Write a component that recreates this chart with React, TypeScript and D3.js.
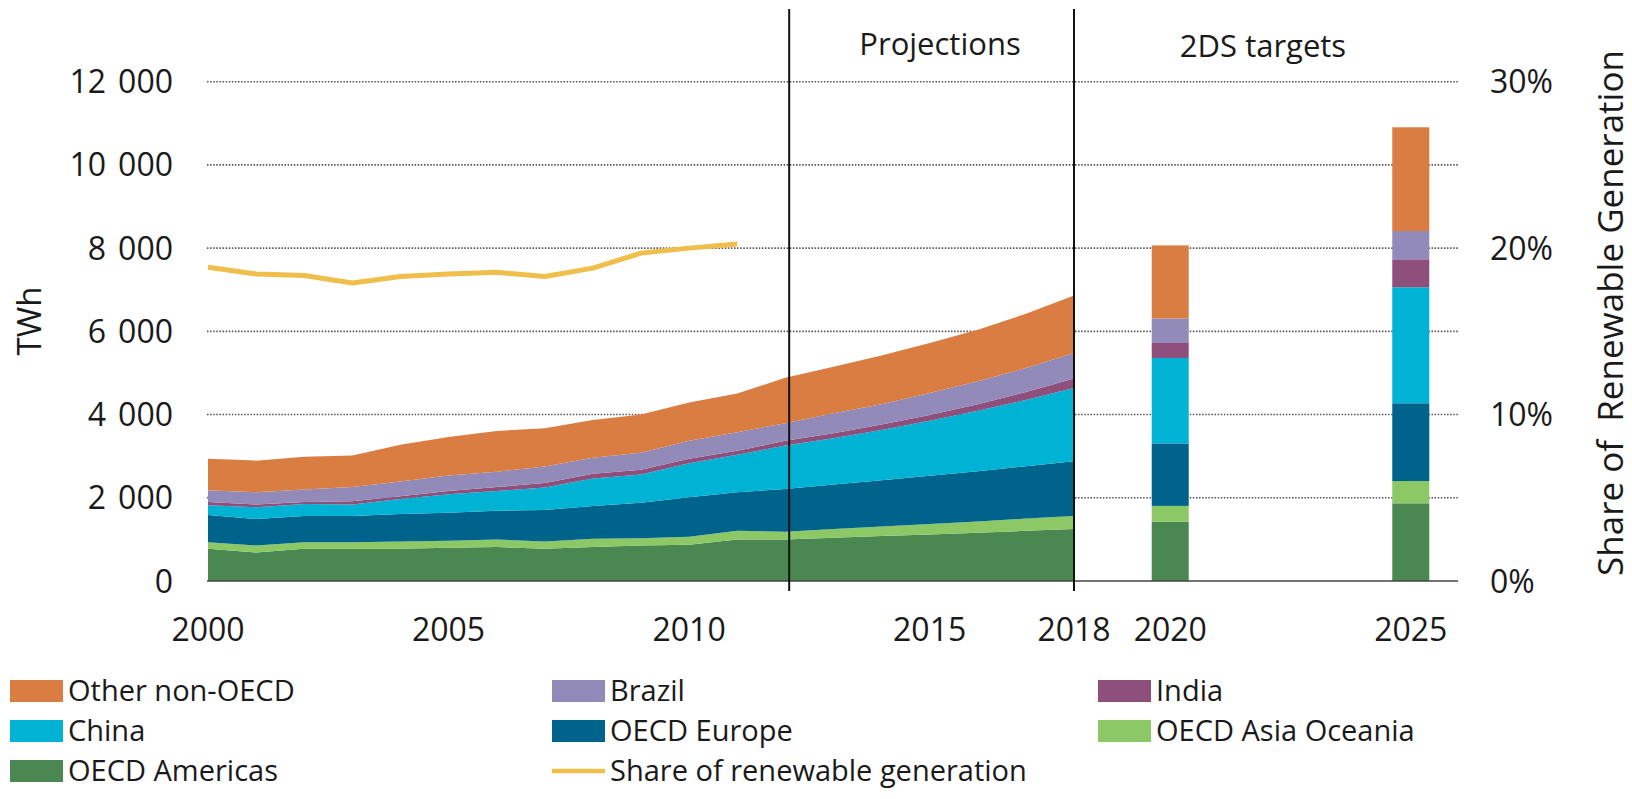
import React from "react";
import * as d3 from "d3";

// ---- data ----
const years = [2000, 2001, 2002, 2003, 2004, 2005, 2006, 2007, 2008, 2009, 2010, 2011, 2012, 2013, 2014, 2015, 2016, 2017, 2018];
const oecdAmericas = [778, 683, 778, 778, 778, 797, 816, 778, 816, 854, 873, 996, 1000, 1040, 1080, 1120, 1160, 1205, 1252];
const oecdAsiaOceania = [152, 171, 152, 152, 171, 171, 180, 171, 199, 171, 189, 209, 186, 210, 230, 250, 270, 295, 313];
const oecdEurope = [654, 635, 635, 635, 664, 673, 692, 758, 787, 853, 949, 929, 1024, 1070, 1110, 1160, 1210, 1260, 1314];
const china = [237, 285, 285, 275, 360, 446, 475, 541, 664, 683, 816, 902, 1044, 1110, 1210, 1320, 1450, 1590, 1757];
const india = [76, 66, 47, 76, 66, 76, 95, 105, 114, 114, 114, 94, 114, 120, 130, 140, 160, 190, 228];
const brazil = [285, 294, 304, 342, 351, 370, 370, 398, 380, 408, 427, 446, 426, 480, 490, 530, 550, 580, 618];
const otherNonOecd = [759, 759, 787, 759, 883, 929, 977, 920, 910, 920, 920, 930, 1091, 1120, 1170, 1200, 1240, 1300, 1378];

const shareYears = [2000, 2001, 2002, 2003, 2004, 2005, 2006, 2007, 2008, 2009, 2010, 2011];
const shareRenewable = [18.85, 18.45, 18.35, 17.9, 18.3, 18.45, 18.55, 18.3, 18.8, 19.7, 20.0, 20.25];

const targetYears = [2020, 2025];
const tAmericas = [1425, 1867];
const tAsiaOceania = [380, 536];
const tEurope = [1501, 1868];
const tChina = [2053, 2788];
const tIndia = [361, 672];
const tBrazil = [589, 681];
const tOther = [1757, 2492];

const yTicks = [0, 2000, 4000, 6000, 8000, 10000, 12000];
const yRightTicks = [0, 10, 20, 30];
const xTickLabels = [2000, 2005, 2010, 2015, 2018, 2020, 2025];
const dividerYears = [2012.08, 2018];

const seriesKeys = ["americas", "asia", "europe", "china", "india", "brazil", "other"];
const seriesNames: Record<string, string> = {
  other: "Other non-OECD",
  brazil: "Brazil",
  india: "India",
  china: "China",
  europe: "OECD Europe",
  asia: "OECD Asia Oceania",
  americas: "OECD Americas",
};
const colors: Record<string, string> = {
  other: "#D97D42",
  brazil: "#928AB8",
  india: "#8E4F7D",
  china: "#00B3D4",
  europe: "#00638C",
  asia: "#8CC865",
  americas: "#4A8751",
};
const shareColor = "#F0BE4A";

const FONT = "'Open Sans', 'Noto Sans', sans-serif";
const TXT = "#1a1a1a";

export default function App() {
  const W = 1632, H = 799;
  const x = d3.scaleLinear().domain([2000, 2018]).range([208, 1074]);
  const y = d3.scaleLinear().domain([0, 12000]).range([581, 81.7]);
  const yR = d3.scaleLinear().domain([0, 30]).range([581, 81.7]);
  const plotLeft = 207, plotRight = 1458;

  const rows = years.map((yr, i) => ({
    year: yr,
    americas: oecdAmericas[i],
    asia: oecdAsiaOceania[i],
    europe: oecdEurope[i],
    china: china[i],
    india: india[i],
    brazil: brazil[i],
    other: otherNonOecd[i],
  }));
  const stacked = d3.stack<any>().keys(seriesKeys)(rows);
  const area = d3
    .area<any>()
    .x((d) => x(d.data.year))
    .y0((d) => y(d[0]))
    .y1((d) => y(d[1]));

  const tRows = targetYears.map((yr, i) => ({
    year: yr,
    americas: tAmericas[i],
    asia: tAsiaOceania[i],
    europe: tEurope[i],
    china: tChina[i],
    india: tIndia[i],
    brazil: tBrazil[i],
    other: tOther[i],
  }));
  const tStacked = d3.stack<any>().keys(seriesKeys)(tRows);
  const barW = 37;

  const line = d3
    .line<number>()
    .x((_, i) => x(shareYears[i]))
    .y((d) => yR(d));

  const legendItems = [
    { key: "other", col: 0, row: 0 },
    { key: "brazil", col: 1, row: 0 },
    { key: "india", col: 2, row: 0 },
    { key: "china", col: 0, row: 1 },
    { key: "europe", col: 1, row: 1 },
    { key: "asia", col: 2, row: 1 },
    { key: "americas", col: 0, row: 2 },
    { key: "share", col: 1, row: 2 },
  ];
  const colX = [10, 552, 1098];
  const rowY = [691, 731, 771];

  const fmtTick = (t: number) => {
    if (t < 1000) return <tspan>{String(t)}</tspan>;
    const th = Math.floor(t / 1000);
    return (
      <>
        <tspan>{String(th)}</tspan>
        <tspan dx={12}>000</tspan>
      </>
    );
  };

  return (
    <svg
      width={W}
      height={H}
      viewBox={`0 0 ${W} ${H}`}
      style={{ position: "absolute", left: 0, top: 0, background: "#fff" }}
      fontFamily={FONT}
    >
      <rect x={0} y={0} width={W} height={H} fill="#fff" />
      {/* gridlines */}
      {yTicks.filter((t) => t > 0).map((t) => (
        <line
          key={t}
          x1={plotLeft}
          x2={plotRight}
          y1={y(t)}
          y2={y(t)}
          stroke="#555"
          strokeWidth={1.6}
          strokeDasharray="1.5,1.6"
        />
      ))}
      {/* stacked areas */}
      {stacked.map((s) => (
        <path key={s.key} d={area(s) || ""} fill={colors[s.key]} />
      ))}
      {/* target bars */}
      {tStacked.map((s) =>
        s.map((d: any, i: number) => (
          <rect
            key={s.key + i}
            x={x(d.data.year) - barW / 2}
            y={y(d[1])}
            width={barW}
            height={y(d[0]) - y(d[1])}
            fill={colors[s.key]}
          />
        ))
      )}
      {/* baseline */}
      <line x1={plotLeft} x2={plotRight} y1={y(0)} y2={y(0)} stroke="#444" strokeWidth={1.6} />
      {/* share line */}
      <path d={line(shareRenewable) || ""} fill="none" stroke={shareColor} strokeWidth={5} strokeLinejoin="round" />
      {/* dividers */}
      {dividerYears.map((d) => (
        <line key={d} x1={x(d)} x2={x(d)} y1={9} y2={591} stroke="#111" strokeWidth={2} />
      ))}
      <text x={940} y={55} textAnchor="middle" fontSize={31} fill={TXT}>Projections</text>
      <text x={1263} y={57} textAnchor="middle" fontSize={31} fill={TXT}>2DS targets</text>
      {/* left axis labels */}
      {yTicks.map((t) => (
        <text key={t} x={173} y={y(t)} dy="0.36em" textAnchor="end" fontSize={32} fill={TXT}>
          {fmtTick(t)}
        </text>
      ))}
      {/* right axis labels */}
      {yRightTicks.map((t) => (
        <text key={t} x={1490} y={yR(t)} dy="0.36em" textAnchor="start" fontSize={32} fill={TXT}>
          {t}%
        </text>
      ))}
      {/* x labels */}
      {xTickLabels.map((t) => (
        <text key={t} x={x(t)} y={629} dy="0.36em" textAnchor="middle" fontSize={32} fill={TXT}>
          {t}
        </text>
      ))}
      {/* axis titles */}
      <text transform="translate(41,321) rotate(-90)" textAnchor="middle" fontSize={33} fill={TXT}>TWh</text>
      <text
        transform="translate(1623,313) rotate(-90)"
        textAnchor="middle"
        fontSize={35}
        fill={TXT}
        style={{ whiteSpace: "pre" }}
      >
        {"Share of  Renewable Generation"}
      </text>
      {/* legend */}
      {legendItems.map((it) => {
        const lx = colX[it.col];
        const ly = rowY[it.row];
        const isLine = it.key === "share";
        return (
          <g key={it.key}>
            {isLine ? (
              <line x1={lx} x2={lx + 53} y1={ly} y2={ly} stroke={shareColor} strokeWidth={4.5} />
            ) : (
              <rect x={lx} y={ly - 11} width={53} height={22} fill={colors[it.key]} />
            )}
            <text x={lx + 58} y={ly} dy="0.36em" fontSize={29} fill={TXT}>
              {isLine ? "Share of renewable generation" : seriesNames[it.key]}
            </text>
          </g>
        );
      })}
    </svg>
  );
}
